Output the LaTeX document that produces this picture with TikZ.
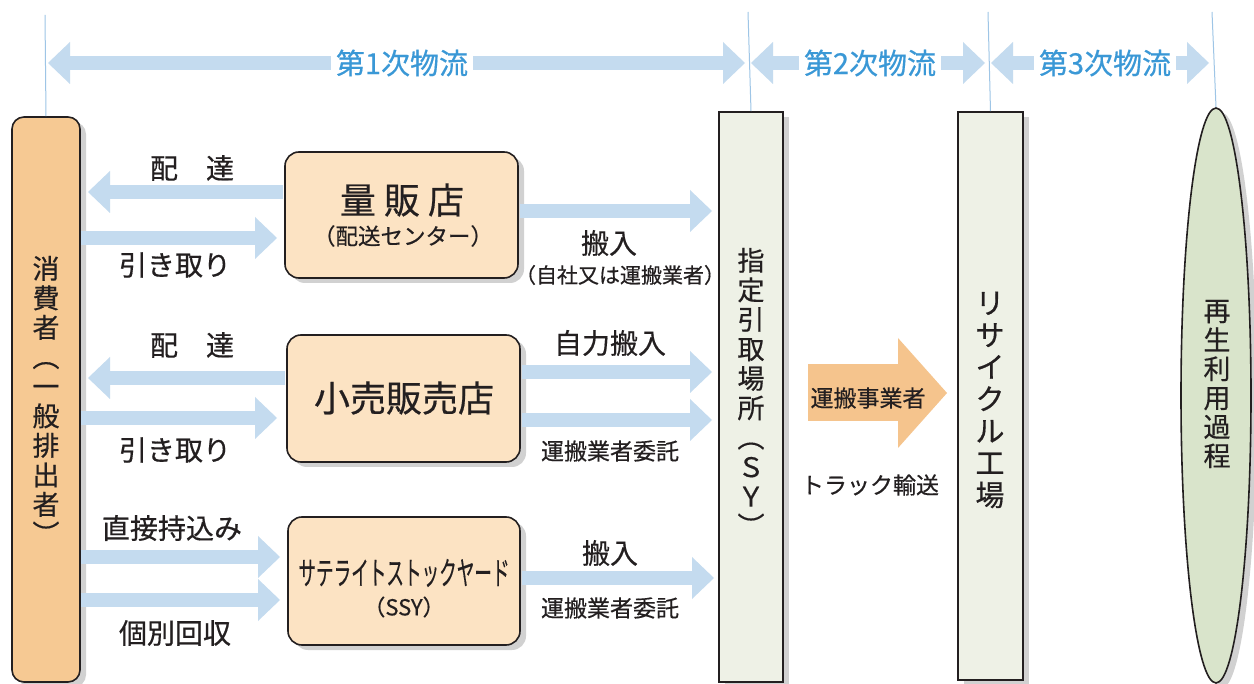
\documentclass[tikz,border=0pt]{standalone}
\usepackage{fontspec}
\setmainfont{Noto Sans CJK JP}[FakeBold=0.5]
\usetikzlibrary{arrows.meta,shapes.geometric,shadows}
\definecolor{abl}{HTML}{C4DBEF}
\definecolor{vln}{HTML}{9EC5E6}
\definecolor{tbl}{HTML}{3A98D6}
\definecolor{consf}{HTML}{F6C993}
\definecolor{shopf}{HTML}{FCE3C3}
\definecolor{syf}{HTML}{EEF1E6}
\definecolor{elf}{HTML}{D9E4CB}
\definecolor{orf}{HTML}{F5C48D}
\definecolor{txt}{HTML}{231F20}
\newcommand{\fsz}[2]{\fontsize{#1}{#2}\selectfont}
\begin{document}
\begin{tikzpicture}[x=1pt,y=-1pt,
  every node/.style={text=txt,inner sep=0pt},
  shd/.style={drop shadow={shadow xshift=6pt,shadow yshift=-5pt,fill=black,opacity=0.18}},
  consbox/.style={draw=txt,line width=1.6pt,fill=consf,rounded corners=12pt,shd},
  shopbox/.style={draw=txt,line width=1.6pt,fill=shopf,rounded corners=14pt},
  colbox/.style={draw=txt,line width=1.6pt,fill=syf,shd},
  lbl/.style={font=\fsz{28}{30}},
  slbl/.style={font=\fsz{23}{26}},
  ttl/.style={font=\fsz{29}{30},text=tbl,fill=white,inner xsep=5pt,inner ysep=2pt},
  vline/.style={draw=vln,line width=1pt},
  barrow/.style={draw=abl,line width=14pt,-{Triangle[width=42pt,length=22pt,line width=0pt]}},
  tarrow/.style={draw=abl,line width=14pt,{Triangle[width=42pt,length=22pt,line width=0pt]}-{Triangle[width=42pt,length=22pt,line width=0pt]}},
  oarrow/.style={draw=orf,line width=57pt,-{Triangle[width=110pt,length=49pt,line width=0pt]}}
]
\useasboundingbox[fill=white] (0,0) rectangle (1254,684);

% coordinates
\coordinate (t1) at (45,15);
\coordinate (t2) at (748,12);
\coordinate (t3) at (988,12);
\coordinate (t4) at (1212,12);
\coordinate (h1) at (48,63);
\coordinate (h2) at (745,63);
\coordinate (h3) at (751,63);
\coordinate (h4) at (985,63);
\coordinate (h5) at (991,63);
\coordinate (h6) at (1209,63);
\coordinate (L1) at (88,192);
\coordinate (R1) at (277,238);
\coordinate (L2) at (88,378);
\coordinate (R2) at (277,418);
\coordinate (R3) at (280,557);
\coordinate (R4) at (280,600);
\coordinate (S1) at (712,211);
\coordinate (S2) at (712,372);
\coordinate (S3) at (712,420);
\coordinate (S4) at (714,578);
\coordinate (O1) at (808,393);
\coordinate (O2) at (947,393);

% shadows of the shop boxes (behind the arrows)
\foreach \cx/\cy/\w/\h in {401.5/215/233/126, 403.5/398.5/233/127, 404/581/232/128}
  \node[fill=black,opacity=0.18,rounded corners=14pt,minimum width=\w pt,minimum height=\h pt] at (\cx+6,\cy+5) {};

% column boxes
\node[consbox,minimum width=68pt,minimum height=565pt] (cons) at (46,399.5) {};
\node[colbox,minimum width=64pt,minimum height=570pt] (sy) at (751,397) {};
\node[colbox,minimum width=65pt,minimum height=568pt] (rf) at (990.5,396) {};
\node[draw=txt,line width=1.6pt,fill=elf,ellipse,minimum width=70pt,minimum height=575pt,shd] (sai) at (1216,395.5) {};

% vertical guide lines
\draw[vline] (t1) -- (cons.north);
\draw[vline] (t2) -- (sy.north);
\draw[vline] (t3) -- (rf.north);
\draw[vline] (t4) -- (sai.north);

% top double arrows
\draw[tarrow] (h1) -- (h2);
\draw[tarrow] (h3) -- (h4);
\draw[tarrow] (h5) -- (h6);
\node[ttl] at (402,63) {第1次物流};
\node[ttl] at (870,63) {第2次物流};
\node[ttl] at (1105,63) {第3次物流};

% shop boxes
\node[shopbox,minimum width=233pt,minimum height=126pt] (ryo) at (401.5,215) {};
\node[shopbox,minimum width=233pt,minimum height=127pt] (kou) at (403.5,398.5) {};
\node[shopbox,minimum width=232pt,minimum height=128pt] (ssy) at (404,581) {};

% flow arrows
\draw[barrow] ([xshift=-1pt]ryo.west |- L1) -- (L1);
\draw[barrow] (cons.east |- R1) -- (R1);
\draw[barrow] ([xshift=-1pt]kou.west |- L2) -- (L2);
\draw[barrow] (cons.east |- R2) -- (R2);
\draw[barrow] (cons.east |- R3) -- (R3);
\draw[barrow] (cons.east |- R4) -- (R4);
\draw[barrow] ([xshift=1pt]ryo.east |- S1) -- (S1);
\draw[barrow] ([xshift=1pt]kou.east |- S2) -- (S2);
\draw[barrow] ([xshift=1pt]kou.east |- S3) -- (S3);
\draw[barrow] ([xshift=1pt]ssy.east |- S4) -- (S4);
\draw[oarrow] (O1) -- (O2);

% box texts
\node[font=\fsz{36}{40}] (ryoA) at (402,200) {量\hspace{8pt}販\hspace{8pt}店};
\node[font=\fsz{22.5}{24}] (ryoB) at (403,236) {（配送センター）};
\node[font=\fsz{36}{40}] (kouA) at (404,398) {小売販売店};
\node[font=\fsz{32}{34}] (ssyA) at (404,573) {\scalebox{0.55}[1]{サテライトストックヤード}};
\node[font=\fsz{22}{24}] (ssyB) at (404,607) {（SSY）};

% vertical texts
\node[font=\fsz{27}{29.5},align=center] (consT) at (46,400) {消\\費\\者\\︵\\一\\般\\排\\出\\者\\︶};
\node[font=\fsz{27}{29.5},align=center] (syT) at (751,392) {指\\定\\引\\取\\場\\所\\︵\\Ｓ\\Ｙ\\︶};
\node[font=\fsz{29}{32},align=center] (rfT) at (990,400) {リ\\サ\\イ\\ク\\ル\\工\\場};
\node[font=\fsz{27}{29},align=center] (saiT) at (1217,384) {再\\生\\利\\用\\過\\程};

% arrow labels
\node[lbl] at (192,168) {配　達};
\node[lbl] at (175,265) {引き取り};
\node[lbl] at (192,345) {配　達};
\node[lbl] at (175,450) {引き取り};
\node[lbl] at (172,528) {直接持込み};
\node[lbl] at (175,633) {個別回収};
\node[lbl] at (609,243) {搬入};
\node[font=\fsz{21}{24}] at (620,275) {（自社又は運搬業者）};
\node[lbl] at (610,343) {自力搬入};
\node[slbl] at (610,451) {運搬業者委託};
\node[lbl] at (610,553) {搬入};
\node[slbl] at (610,608) {運搬業者委託};
\node[slbl] at (868,398) {運搬事業者};
\node[slbl] at (870,485) {トラック輸送};
\end{tikzpicture}
\end{document}
